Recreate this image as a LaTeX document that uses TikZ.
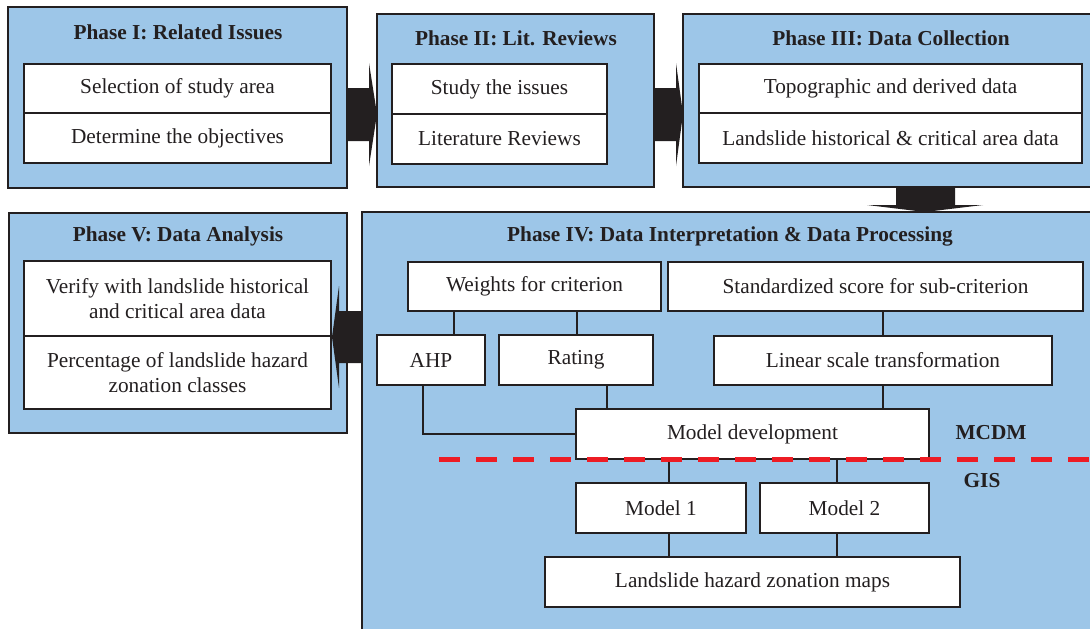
\documentclass[tikz,border=0pt]{standalone}
\usepackage{fontspec}
\setmainfont{Liberation Serif}
\definecolor{phaseblue}{RGB}{157,198,232}
\definecolor{ink}{RGB}{35,31,32}
\definecolor{dashred}{RGB}{237,28,36}
\tikzset{
  txt/.style={font=\fontsize{21.3}{25}\selectfont, text=ink},
  ttl/.style={font=\bfseries\fontsize{21.3}{25}\selectfont, text=ink, inner sep=0pt},
  phase/.style={draw=ink, line width=2pt, fill=phaseblue, inner sep=0pt},
  wbox/.style={txt, draw=ink, line width=2pt, fill=white, inner sep=0pt, align=center},
  conn/.style={draw=ink, line width=1.6pt},
  blockarrow/.style={fill=ink, draw=none},
  mdash/.style={draw=dashred, line width=5pt, dash pattern=on 21pt off 16pt}
}
\begin{document}
\begin{tikzpicture}[x=1pt,y=-1pt]
\useasboundingbox (0,0) rectangle (1090,629);
\clip (0,0) rectangle (1090,629);
% phase containers
\node[phase, minimum width=339, minimum height=181] (P1) at (177.5,97.5) {};
\node[phase, minimum width=277, minimum height=173] (P2) at (515.5,100.5) {};
\node[phase, minimum width=417, minimum height=173] (P3) at (891.5,100.5) {};
\node[phase, minimum width=338, minimum height=220] (P5) at (178,323) {};
\node[phase, minimum width=738, minimum height=428] (P4) at (731,426) {};
% titles
\node[ttl] (T1) at (178,32) {Phase I: Related Issues};
\node[ttl] (T2) at (516,38) {Phase II: Lit. Reviews};
\node[ttl] (T3) at (891,38) {Phase III: Data Collection};
\node[ttl] (T5) at (178,236) {Phase V: Data Analysis};
\node[ttl] (T4) at (730,236) {Phase IV: Data Interpretation \& Data Processing};
% phase I
\node[wbox, minimum width=307, minimum height=49] (P1a) at (177.5,88.5) {Selection of study area};
\node[wbox, minimum width=307, minimum height=50] (P1b) at (177.5,138) {Determine the objectives};
% phase II
\node[wbox, minimum width=215, minimum height=50] (P2a) at (499.5,89) {Study the issues};
\node[wbox, minimum width=215, minimum height=50] (P2b) at (499.5,139) {Literature Reviews};
% phase III
\node[wbox, minimum width=383, minimum height=49] (P3a) at (890.5,88.5) {Topographic and derived data};
\node[wbox, minimum width=383, minimum height=50] (P3b) at (890.5,138) {Landslide historical \& critical area data};
% phase V
\node[wbox, minimum width=307, minimum height=75] (P5a) at (177.5,298.5) {Verify with landslide historical\\and critical area data};
\node[wbox, minimum width=307, minimum height=73] (P5b) at (177.5,372.5) {Percentage of landslide hazard\\zonation classes};
% phase IV
\node[wbox, minimum width=253, minimum height=49] (W) at (534.5,286.5) {Weights for criterion};
\node[wbox, minimum width=415, minimum height=49] (S) at (875.5,286.5) {Standardized score for sub-criterion};
\node[wbox, minimum width=108, minimum height=50] (AHP) at (431,360) {AHP};
\node[wbox, minimum width=154, minimum height=50] (R) at (576,360) {Rating};
\node[wbox, minimum width=338, minimum height=49] (L) at (883,360.5) {Linear scale transformation};
\node[wbox, minimum width=353, minimum height=50] (MD) at (752.5,434) {Model development};
\node[wbox, minimum width=170, minimum height=50] (M1) at (661,508) {Model 1};
\node[wbox, minimum width=169, minimum height=50] (M2) at (844.5,508) {Model 2};
\node[wbox, minimum width=415, minimum height=50] (MAP) at (752.5,582) {Landslide hazard zonation maps};
\node[ttl] (MCDM) at (991,433) {MCDM};
\node[ttl] (GIS) at (982,481) {GIS};
% connectors
\draw[conn] (454,0 |- W.south) -- (454,0 |- AHP.north);
\draw[conn] (577,0 |- W.south) -- (577,0 |- R.north);
\draw[conn] (883,0 |- S.south) -- (L.north);
\draw[conn] (423,0 |- AHP.south) |- (MD.west);
\draw[conn] (607,0 |- R.south) -- (607,0 |- MD.north);
\draw[conn] (L.south) -- (L.south |- MD.north);
\draw[conn] (669,0 |- MD.south) -- (669,0 |- M1.north);
\draw[conn] (837,0 |- MD.south) -- (837,0 |- M2.north);
\draw[conn] (669,0 |- M1.south) -- (669,0 |- MAP.north);
\draw[conn] (837,0 |- M2.south) -- (837,0 |- MAP.north);
% dashed boundary
\coordinate (dL) at (439,459);
\coordinate (dR) at (1090,459);
\draw[mdash] (dL) -- (dR);
% block arrows
\fill[blockarrow] (346,88) -- (369,88) -- (369,63) -- (377,114) -- (369,166) -- (369,141) -- (346,141) -- cycle;
\fill[blockarrow] (653,88) -- (676,88) -- (676,63) -- (683,114) -- (676,166) -- (676,141) -- (653,141) -- cycle;
\fill[blockarrow] (896,187) -- (955,187) -- (955,205) -- (983,205) -- (925,212) -- (867,205) -- (896,205) -- cycle;
\fill[blockarrow] (362,311) -- (339,311) -- (339,286) -- (332,337) -- (339,388) -- (339,363) -- (362,363) -- cycle;
\end{tikzpicture}
\end{document}
